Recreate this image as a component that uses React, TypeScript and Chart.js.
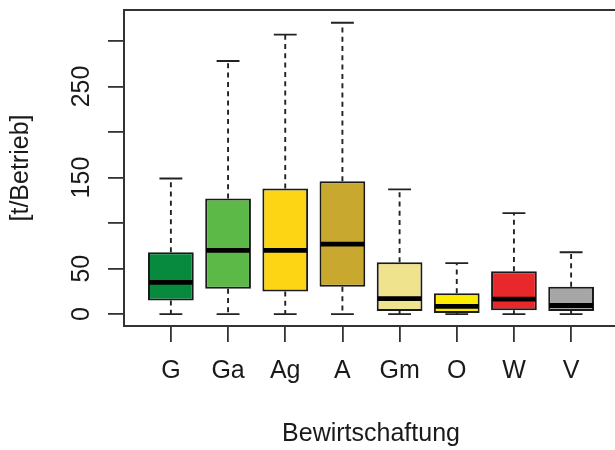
import React, { useEffect, useRef } from 'react';
import { Chart, registerables } from 'chart.js';

Chart.register(...registerables);

const categories = ['G', 'Ga', 'Ag', 'A', 'Gm', 'O', 'W', 'V'];
const whiskerLow = [0, 0, 0, 0, 0, 0, 0, 0];
const q1 = [15, 28, 25, 30, 3.5, 1.3, 4.4, 3.5];
const median = [35, 70, 70, 77, 17, 8.5, 16.5, 9.5];
const q3 = [68, 127, 138, 146, 57, 23, 47, 30];
const whiskerHigh = [149, 278, 307, 320, 137, 56, 111, 68];
const fillColors = ['#078a3e', '#5cb947', '#fdd514', '#c9a82f', '#efe38d', '#fdec00', '#e8282b', '#a6a6a6'];
const yTickValues = [0, 50, 100, 150, 200, 250, 300];
const yTickLabels = ['0', '50', '', '150', '', '250', ''];
const xTitle = 'Bewirtschaftung';
const yTitle = '[t/Betrieb]';

const FONT = '"Liberation Sans", Arial, Helvetica, sans-serif';
const INK = '#1a1a1a';
const FSIZE = 25;

const boxParts = {
  id: 'boxParts',
  beforeDatasetsDraw(chart: any) {
    const { ctx, scales } = chart;
    const x = scales.x;
    const y = scales.y;
    ctx.save();
    ctx.strokeStyle = '#222';
    ctx.lineWidth = 1.9;
    categories.forEach((_, i) => {
      const cx = x.getPixelForValue(i + 1);
      const half = (x.getPixelForValue(i + 1.2) - x.getPixelForValue(i + 0.8)) / 2;
      ctx.setLineDash([5, 4.3]);
      ctx.beginPath();
      ctx.moveTo(cx, y.getPixelForValue(q3[i]));
      ctx.lineTo(cx, y.getPixelForValue(whiskerHigh[i]));
      ctx.moveTo(cx, y.getPixelForValue(q1[i]));
      ctx.lineTo(cx, y.getPixelForValue(whiskerLow[i]));
      ctx.stroke();
      ctx.setLineDash([]);
      ctx.beginPath();
      ctx.moveTo(cx - half, y.getPixelForValue(whiskerHigh[i]));
      ctx.lineTo(cx + half, y.getPixelForValue(whiskerHigh[i]));
      ctx.moveTo(cx - half, y.getPixelForValue(whiskerLow[i]));
      ctx.lineTo(cx + half, y.getPixelForValue(whiskerLow[i]));
      ctx.stroke();
    });
    ctx.restore();
  },
  afterDatasetsDraw(chart: any) {
    const { ctx, scales, chartArea } = chart;
    const x = scales.x;
    const y = scales.y;
    ctx.save();
    // medians
    ctx.strokeStyle = '#000';
    ctx.lineWidth = 4.8;
    categories.forEach((_, i) => {
      const l = x.getPixelForValue(i + 0.6);
      const r = x.getPixelForValue(i + 1.4);
      const py = y.getPixelForValue(median[i]);
      ctx.beginPath();
      ctx.moveTo(l + 1, py);
      ctx.lineTo(r - 1, py);
      ctx.stroke();
    });
    // frame
    ctx.strokeStyle = '#333';
    ctx.lineWidth = 2;
    ctx.strokeRect(chartArea.left, chartArea.top, chartArea.right - chartArea.left, chartArea.bottom - chartArea.top);
    // rotated y tick labels
    ctx.fillStyle = INK;
    ctx.font = `${FSIZE}px ${FONT}`;
    ctx.textAlign = 'center';
    ctx.textBaseline = 'middle';
    yTickValues.forEach((v, i) => {
      const lbl = yTickLabels[i];
      if (!lbl) return;
      ctx.save();
      ctx.translate(82, y.getPixelForValue(v));
      ctx.rotate(-Math.PI / 2);
      ctx.fillText(lbl, 0, 0);
      ctx.restore();
    });
    ctx.restore();
  },
};

export default function App() {
  const ref = useRef<HTMLCanvasElement | null>(null);
  useEffect(() => {
    if (!ref.current) return;
    const chart = new Chart(ref.current, {
      type: 'bar',
      data: {
        datasets: [
          {
            data: categories.map((_, i) => ({ x: i + 1, y: [q1[i], q3[i]] })) as any,
            backgroundColor: fillColors,
            borderColor: '#1a1a1a',
            borderWidth: 2,
            borderSkipped: false,
            categoryPercentage: 1,
            barPercentage: 0.8,
          },
        ],
      },
      options: {
        animation: false,
        responsive: false,
        devicePixelRatio: 1,
        events: [],
        layout: { padding: { top: 10, right: 22, left: 0, bottom: 0 } },
        plugins: { legend: { display: false }, tooltip: { enabled: false } },
        scales: {
          x: {
            type: 'linear',
            min: 0.18,
            max: 8.82,
            offset: false,
            afterBuildTicks: (s: any) => {
              s.ticks = categories.map((_, i) => ({ value: i + 1 }));
            },
            afterFit: (s: any) => {
              s.height = 124;
            },
            ticks: {
              autoSkip: false,
              maxRotation: 0,
              padding: 14,
              color: INK,
              font: { family: FONT, size: FSIZE },
              callback: (v: any) => categories[Math.round(Number(v)) - 1] ?? '',
            },
            grid: { display: true, drawOnChartArea: false, drawTicks: true, tickLength: 16, color: '#333', lineWidth: 1.8, offset: false },
            border: { display: false },
            title: { display: true, text: xTitle, color: INK, font: { family: FONT, size: FSIZE }, padding: { top: 0, bottom: 1 } },
          },
          y: {
            type: 'linear',
            min: -13,
            max: 334,
            afterBuildTicks: (s: any) => {
              s.ticks = yTickValues.map((v) => ({ value: v }));
            },
            afterFit: (s: any) => {
              s.width = 124;
            },
            ticks: { display: false },
            grid: { display: true, drawOnChartArea: false, drawTicks: true, tickLength: 16, color: '#333', lineWidth: 1.8 },
            border: { display: false },
            title: { display: true, text: yTitle, color: INK, font: { family: FONT, size: FSIZE }, padding: { top: 6.5, bottom: 0 } },
          },
        },
      },
      plugins: [boxParts],
    } as any);
    return () => chart.destroy();
  }, []);
  return (
    <div style={{ position: 'absolute', left: 0, top: 0, width: 615, height: 450, overflow: 'hidden', background: '#fff' }}>
      <canvas ref={ref} width={640} height={450} style={{ display: 'block', width: 640, height: 450 }} />
    </div>
  );
}
